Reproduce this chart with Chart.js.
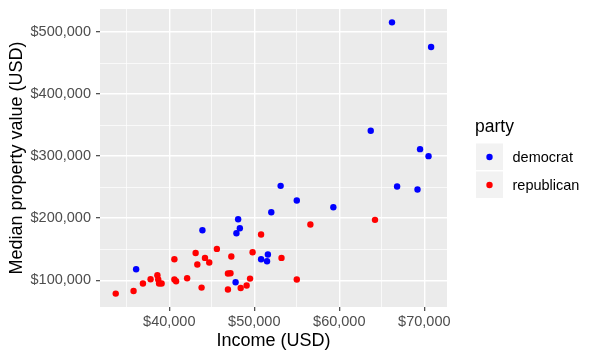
<!DOCTYPE html>
<html>
<head>
<meta charset="utf-8">
<script src="https://cdn.jsdelivr.net/npm/chart.js@4"></script>
<style>
  body { margin: 0; background: #ffffff; }
</style>
</head>
<body>
<canvas id="chart" width="600" height="360"></canvas>
<script>
const demIncome = [66200, 70800, 63700, 69500, 70500, 53100, 55000, 52000, 59300, 66800, 69200, 36100, 43900, 47800, 47900, 48100, 48300, 50800, 51600, 51500];
const demProperty = [515600, 475800, 340800, 311300, 300000, 252100, 228500, 209700, 217700, 251100, 246300, 117700, 180600, 96800, 175800, 198400, 183900, 133900, 141500, 130600];

const repIncome = [33700, 35800, 36900, 37800, 38600, 38700, 38800, 39100, 40600, 40600, 40800, 42100, 43100, 43300, 43800, 44200, 44700, 45600, 46900, 46900, 47200, 47300, 48400, 49100, 49500, 49800, 50800, 53200, 55000, 56600, 64200];
const repProperty = [78500, 82700, 94700, 101600, 108100, 101100, 94700, 94700, 133900, 101100, 98400, 103200, 144000, 125300, 88200, 136000, 128500, 150500, 85000, 110800, 111300, 138200, 87400, 91500, 102700, 145200, 173700, 136000, 101100, 189800, 197300];

const xMajorTicks = [40000, 50000, 60000, 70000];
const xTickLabels = ["$40,000", "$50,000", "$60,000", "$70,000"];
const xGridValues = [35000, 40000, 45000, 50000, 55000, 60000, 65000, 70000];

const yMajorTicks = [100000, 200000, 300000, 400000, 500000];
const yTickLabels = ["$100,000", "$200,000", "$300,000", "$400,000", "$500,000"];
const yGridValues = [100000, 150000, 200000, 250000, 300000, 350000, 400000, 450000, 500000];

const partyNames = ["democrat", "republican"];
const partyColors = ["#0000ff", "#ff0000"];

const FONT = "'Liberation Sans', Arial, Helvetica, sans-serif";

function toPoints(xs, ys) {
	return xs.map((x, i) => ({ x: x, y: ys[i] }));
}

const panelBackground = {
	id: "panelBackground",
	beforeDraw(chart) {
		const { ctx, chartArea } = chart;
		ctx.save();
		ctx.fillStyle = "#ffffff";
		ctx.fillRect(0, 0, chart.width, chart.height);
		ctx.fillStyle = "#ebebeb";
		ctx.fillRect(chartArea.left, chartArea.top, chartArea.right - chartArea.left, chartArea.bottom - chartArea.top);
		ctx.restore();
	},
};

// ggplot-style legend: title, grey key boxes, dot, label
const sideLegend = {
	id: "sideLegend",
	afterDraw(chart) {
		const ctx = chart.ctx;
		const left = 476;
		ctx.save();
		ctx.fillStyle = "#000000";
		ctx.font = `17.5px ${FONT}`;
		ctx.textBaseline = "middle";
		ctx.textAlign = "left";
		ctx.fillText("party", 475, 127);

		chart.data.datasets.forEach((ds, i) => {
			const top = 143.5 + i * 28;
			ctx.fillStyle = "#f2f2f2";
			ctx.fillRect(left, top, 27, 26.5);
			ctx.beginPath();
			ctx.arc(left + 13.5, top + 13.5, 3.2, 0, Math.PI * 2);
			ctx.fillStyle = ds.backgroundColor;
			ctx.fill();
			ctx.fillStyle = "#000000";
			ctx.font = `14.5px ${FONT}`;
			ctx.fillText(ds.label, 512.5, top + 14);
		});
		ctx.restore();
	},
};

new Chart(document.getElementById("chart"), {
	type: "scatter",
	data: {
		datasets: [
			{
				label: partyNames[0],
				data: toPoints(demIncome, demProperty),
				backgroundColor: partyColors[0],
				borderColor: partyColors[0],
				pointRadius: 3.2,
				pointBorderWidth: 0,
			},
			{
				label: partyNames[1],
				data: toPoints(repIncome, repProperty),
				backgroundColor: partyColors[1],
				borderColor: partyColors[1],
				pointRadius: 3.2,
				pointBorderWidth: 0,
			},
		],
	},
	options: {
		responsive: false,
		animation: false,
		devicePixelRatio: 1,
		layout: {
			padding: { top: 9, right: 153, bottom: 0, left: 0 },
		},
		plugins: {
			legend: { display: false },
			tooltip: { enabled: false },
		},
		scales: {
			x: {
				type: "linear",
				min: 31850,
				max: 72670,
				border: { display: false },
				afterBuildTicks: (scale) => {
					scale.ticks = xGridValues.map((v) => ({ value: v }));
				},
				afterFit: (scale) => {
					scale.height = 53;
					scale.paddingLeft = 0;
					scale.paddingRight = 0;
				},
				grid: {
					color: "#ffffff",
					lineWidth: (c) => (xMajorTicks.includes(c.tick.value) ? 1.4 : 0.7),
					tickColor: (c) => (xMajorTicks.includes(c.tick.value) ? "#333333" : "rgba(0,0,0,0)"),
					tickWidth: 1.1,
					tickLength: 4,
				},
				ticks: {
					autoSkip: false,
					maxRotation: 0,
					padding: 2,
					color: "#4d4d4d",
					font: { family: FONT, size: 14.5 },
					callback: (value) => {
						const i = xMajorTicks.indexOf(value);
						return i >= 0 ? xTickLabels[i] : "";
					},
				},
				title: {
					display: true,
					text: "Income (USD)",
					color: "#000000",
					font: { family: FONT, size: 18 },
					padding: { top: 0, bottom: 8 },
				},
			},
			y: {
				type: "linear",
				min: 56900,
				max: 537100,
				border: { display: false },
				afterBuildTicks: (scale) => {
					scale.ticks = yGridValues.map((v) => ({ value: v }));
				},
				afterFit: (scale) => {
					scale.width = 100;
					scale.paddingTop = 0;
					scale.paddingBottom = 0;
				},
				grid: {
					color: "#ffffff",
					lineWidth: (c) => (yMajorTicks.includes(c.tick.value) ? 1.4 : 0.7),
					tickColor: (c) => (yMajorTicks.includes(c.tick.value) ? "#333333" : "rgba(0,0,0,0)"),
					tickWidth: 1.1,
					tickLength: 4,
				},
				ticks: {
					autoSkip: false,
					padding: 5,
					color: "#4d4d4d",
					font: { family: FONT, size: 14.5 },
					callback: (value) => {
						const i = yMajorTicks.indexOf(value);
						return i >= 0 ? yTickLabels[i] : "";
					},
				},
				title: {
					display: true,
					text: "Median property value (USD)",
					color: "#000000",
					font: { family: FONT, size: 18 },
					padding: { top: 6, bottom: 0 },
				},
			},
		},
	},
	plugins: [panelBackground, sideLegend],
});
</script>
</body>
</html>
